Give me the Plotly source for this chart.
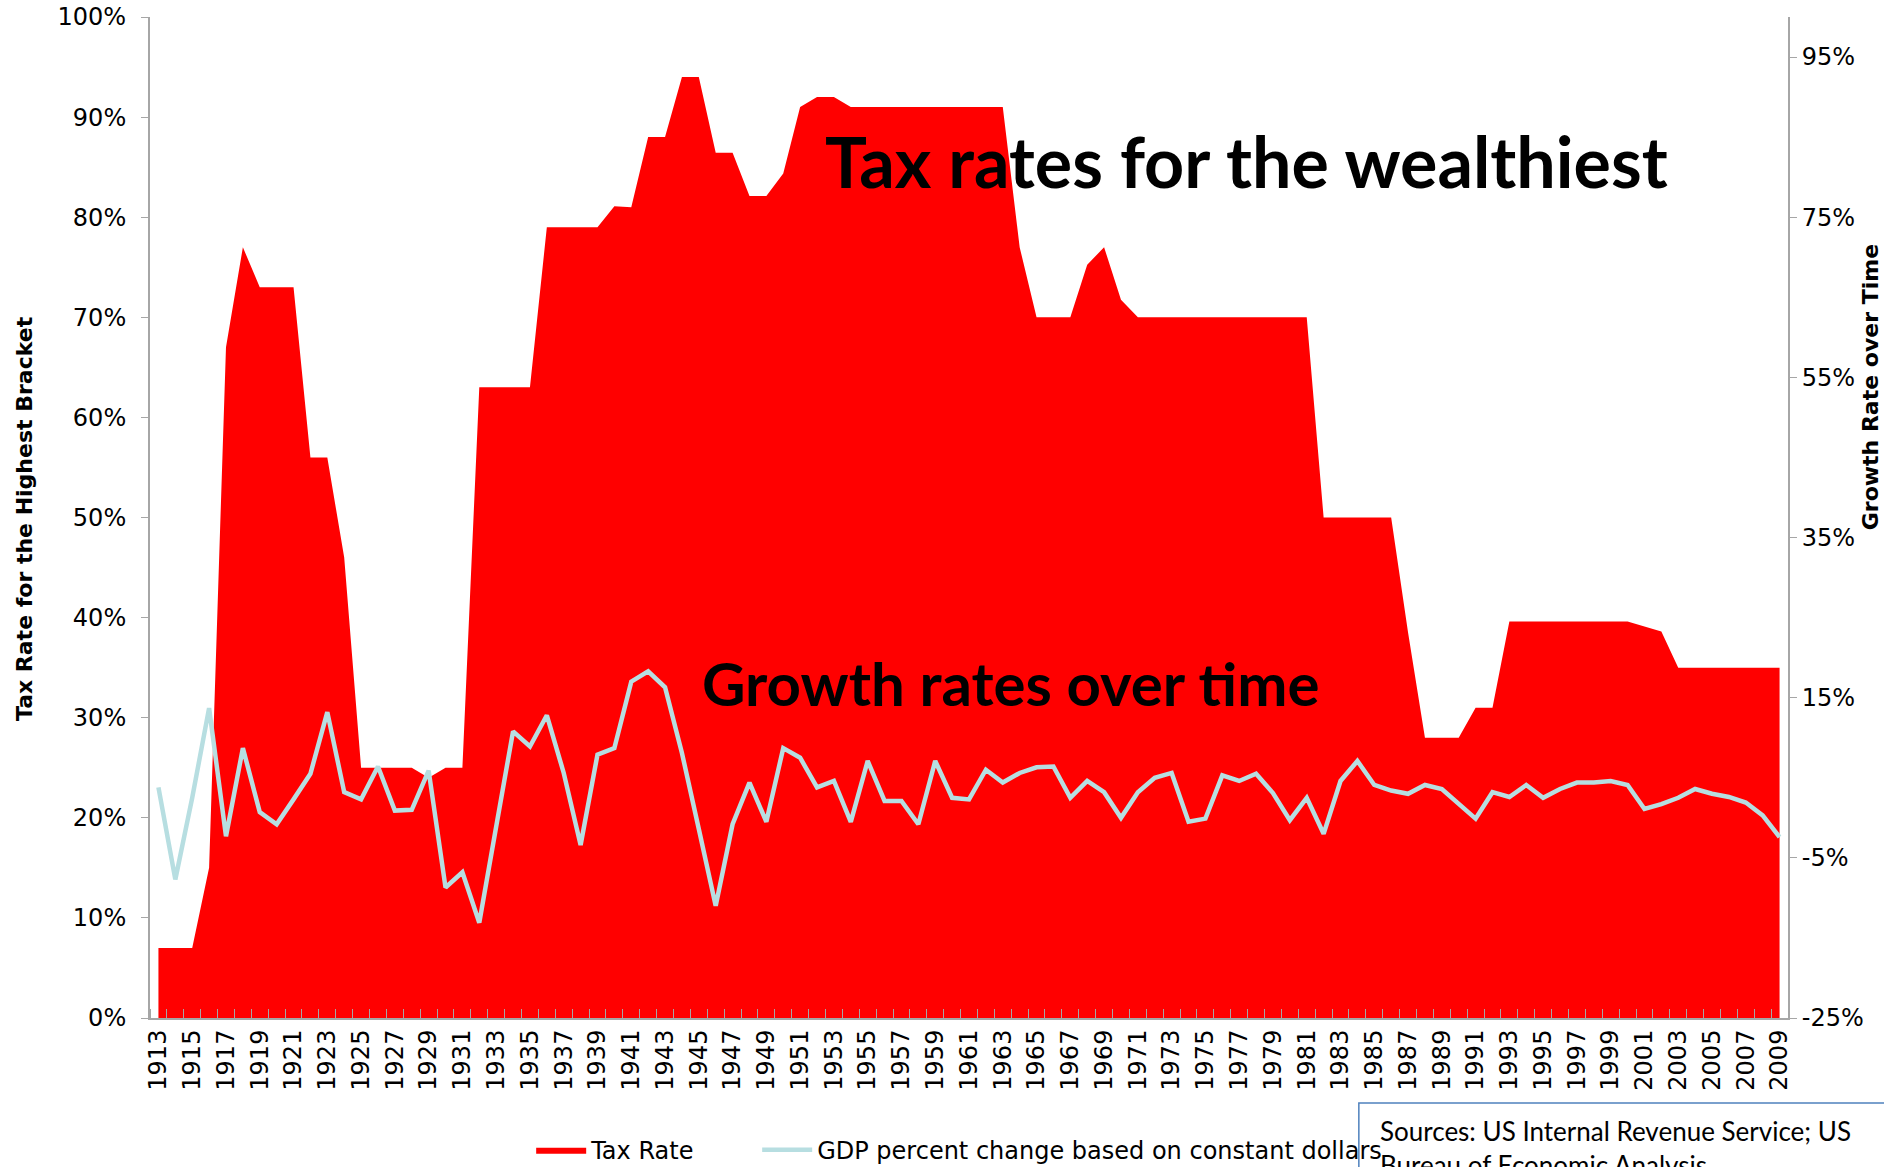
import plotly.graph_objects as go

years = list(range(1913, 2010))

tax_rate = [7, 7, 7, 15, 67, 77, 73, 73, 73, 56, 56, 46, 25, 25, 25, 25, 24, 25, 25,
            63, 63, 63, 63, 79, 79, 79, 79, 81.1, 81, 88, 88, 94, 94, 86.45, 86.45,
            82.13, 82.13, 84.36, 91, 92, 92, 91, 91, 91, 91, 91, 91, 91, 91, 91, 91,
            77, 70, 70, 70, 75.25, 77, 71.75, 70, 70, 70, 70, 70, 70, 70, 70, 70, 70,
            70, 50, 50, 50, 50, 50, 38.5, 28, 28, 28, 31, 31, 39.6, 39.6, 39.6, 39.6,
            39.6, 39.6, 39.6, 39.6, 39.1, 38.6, 35, 35, 35, 35, 35, 35, 35]

gdp_change = [3.8, -7.7, 2.5, 13.7, -2.3, 8.7, 0.7, -0.8, 2.3, 5.5, 13.2, 3.2, 2.3, 6.4,
              0.9, 1.0, 5.9, -8.7, -6.8, -13.1, -1.1, 10.8, 8.9, 12.8, 5.6, -3.4, 7.9,
              8.7, 17.0, 18.3, 16.3, 8.1, -1.4, -11.0, -0.8, 4.4, -0.5, 8.7, 7.5, 3.8,
              4.6, -0.5, 7.1, 2.1, 2.1, -0.8, 7.1, 2.5, 2.3, 6.0, 4.4, 5.6, 6.3, 6.4,
              2.5, 4.6, 3.2, 0.0, 3.2, 5.0, 5.6, -0.5, -0.1, 5.3, 4.6, 5.5, 3.1, -0.3,
              2.5, -2.0, 4.6, 7.1, 4.1, 3.4, 3.0, 4.1, 3.6, 1.8, -0.1, 3.2, 2.6, 4.1,
              2.5, 3.6, 4.4, 4.4, 4.6, 4.1, 1.1, 1.7, 2.5, 3.6, 3.0, 2.6, 1.9, 0.3, -2.4]

x_tick_years = years[::2]
x_tick_labels = [str(y) for y in x_tick_years]
left_tick_vals = [0, 10, 20, 30, 40, 50, 60, 70, 80, 90, 100]
left_tick_labels = ["0%", "10%", "20%", "30%", "40%", "50%", "60%", "70%", "80%",
                    "90%", "100%"]
right_tick_vals = [-25, -5, 15, 35, 55, 75, 95]
right_tick_labels = ["-25%", "-5%", "15%", "35%", "55%", "75%", "95%"]

AXIS_GRAY = "#A6A6A6"
TICK_FONT = dict(family="DejaVu Sans", size=24, color="#000000")

fig = go.Figure()
fig.add_trace(go.Scatter(
    x=years, y=tax_rate, name="Tax Rate", mode="lines",
    fill="tozeroy", fillcolor="#FF0000", line=dict(color="#FF0000", width=0),
    legendwidth=161, yaxis="y"))
fig.add_trace(go.Scatter(
    x=years, y=gdp_change, name="GDP percent change based on constant dollars",
    mode="lines", line=dict(color="#B7DEE1", width=4.5), yaxis="y2"))

fig.update_layout(
    width=1884, height=1167,
    margin=dict(l=150, r=96, t=17, b=149, autoexpand=False),
    paper_bgcolor="white", plot_bgcolor="white",
    showlegend=True,
    legend=dict(orientation="h", x=0.494, y=-0.132, xanchor="center", yanchor="middle",
                font=dict(family="DejaVu Sans", size=24, color="#000000"),
                itemwidth=50, bgcolor="rgba(0,0,0,0)"),
    xaxis=dict(
        range=[1912.5, 2009.5], tickmode="array", tickvals=x_tick_years,
        ticktext=x_tick_labels, tickangle=-90, tickfont=TICK_FONT, automargin=False,
        showgrid=False, zeroline=False, showline=True, linecolor=AXIS_GRAY, linewidth=2,
        ticks="",
        minor=dict(tickmode="linear", tick0=1912.5, dtick=1, ticks="inside",
                   ticklen=9, tickcolor=AXIS_GRAY, tickwidth=1, showgrid=False)),
    yaxis=dict(
        range=[0, 100], tickmode="array", tickvals=left_tick_vals,
        ticktext=left_tick_labels, automargin=False, ticklabelstandoff=10,
        tickfont=TICK_FONT, showgrid=False, zeroline=False, showline=True,
        linecolor=AXIS_GRAY, linewidth=2, ticks="outside", ticklen=7,
        tickcolor=AXIS_GRAY, tickwidth=1),
    yaxis2=dict(
        range=[-25, 100], tickmode="array", tickvals=right_tick_vals,
        ticktext=right_tick_labels, automargin=False,
        overlaying="y", side="right", tickfont=TICK_FONT, showgrid=False,
        zeroline=False, showline=True, linecolor=AXIS_GRAY, linewidth=2,
        ticks="outside", ticklen=7, tickcolor=AXIS_GRAY, tickwidth=1),
)

annotations = [
    dict(text="Tax rates for the wealthiest", xref="paper", yref="paper",
         x=0.411, y=0.856, xanchor="left", yanchor="middle", showarrow=False,
         font=dict(family="Lato", size=70, color="#000000", weight="bold")),
    dict(text="Growth rates over time", xref="paper", yref="paper",
         x=0.336, y=0.335, xanchor="left", yanchor="middle", showarrow=False,
         font=dict(family="Lato", size=60, color="#000000", weight="bold")),
    dict(text="Tax Rate for the Highest Bracket", xref="paper", yref="paper",
         x=-0.0769, y=0.4985, xanchor="center", yanchor="middle", textangle=-90,
         showarrow=False,
         font=dict(family="DejaVu Sans", size=22, color="#000000", weight="bold")),
    dict(text="Growth Rate over Time", xref="paper", yref="paper",
         x=1.050, y=0.630, xanchor="center", yanchor="middle", textangle=-90,
         showarrow=False,
         font=dict(family="DejaVu Sans", size=22, color="#000000", weight="bold")),
    dict(text="Sources: US Internal Revenue Service; US<br>Bureau of Economic Analysis",
         xref="paper", yref="paper", x=0.7497, y=-0.095, xanchor="left", yanchor="top",
         align="left", showarrow=False,
         font=dict(family="Lato", size=26, color="#000000")),
]
fig.update_layout(annotations=annotations)

fig.add_shape(type="rect", xref="paper", yref="paper",
              x0=0.738, x1=1.2, y0=-0.0849, y1=-0.35,
              line=dict(color="#4F81BD", width=1.5), fillcolor="white", layer="above")

fig.write_html("out.html", config={"displayModeBar": False},
               post_script="document.body.style.margin='0';document.body.style.overflow='hidden';")
